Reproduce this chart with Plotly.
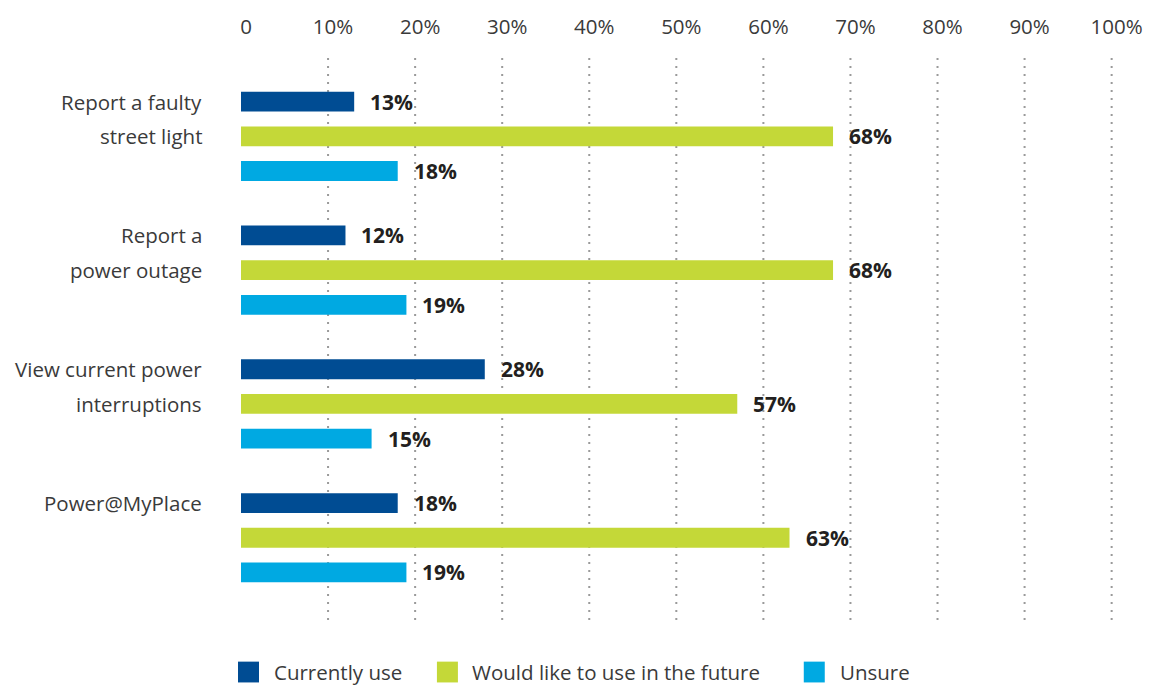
import plotly.graph_objects as go

# ---- data ----
categories = [
    ["Report a faulty", "street light"],
    ["Report a", "power outage"],
    ["View current power", "interruptions"],
    ["Power@MyPlace"],
]
series_names = ["Currently use", "Would like to use in the future", "Unsure"]
currently_use = [13, 12, 28, 18]
future_use = [68, 68, 57, 63]
unsure = [18, 19, 15, 19]
tick_values = [0, 10, 20, 30, 40, 50, 60, 70, 80, 90, 100]
tick_labels = ["0", "10%", "20%", "30%", "40%", "50%", "60%", "70%", "80%", "90%", "100%"]

# ---- styling ----
COLORS = ["#004C93", "#C4D838", "#00A9E2"]
TEXT = "#3a3a3a"
VALUE_TEXT = "#231F20"
FONT = "Open Sans"
TEXT_SIZE = 20.5
W, H = 1165, 689
L, T, B = 241, 52, 69
PX_PER_PCT = 8.71
X_MAX = 100.5
R = W - L - PX_PER_PCT * X_MAX
PLOT_W = W - L - R
PLOT_H = H - T - B

BAR_PX = 35.0           # distance between bars inside a group
GROUP_PX = 135.0        # distance between groups
GROUP_STEP = GROUP_PX / BAR_PX
BAR_WIDTH = 20.0 / BAR_PX
FIRST_BAR_PX = 97.0     # centre of the first bar, from top of page
Y_TOP = (T - FIRST_BAR_PX) / BAR_PX
Y_BOTTOM = Y_TOP + PLOT_H / BAR_PX

series_values = [currently_use, future_use, unsure]

fig = go.Figure()
annotations = []
for s, (name, values, color) in enumerate(zip(series_names, series_values, COLORS)):
    ys = [g * GROUP_STEP + s for g in range(len(categories))]
    fig.add_trace(go.Bar(
        x=values, y=ys, orientation="h", name=name,
        marker=dict(color=color, line=dict(width=0)),
        width=BAR_WIDTH, showlegend=False, hoverinfo="x",
    ))
    for v, y in zip(values, ys):
        annotations.append(dict(
            x=v, y=y, xref="x", yref="y", text=f"{v}%", showarrow=False,
            xanchor="left", yanchor="middle", xshift=14,
            font=dict(family=FONT, size=21, color=VALUE_TEXT, weight="bold"),
        ))

# category labels, one line per bar row
for g, lines in enumerate(categories):
    for i, line in enumerate(lines):
        annotations.append(dict(
            x=0, y=g * GROUP_STEP + i, xref="paper", yref="y", text=line,
            showarrow=False, xanchor="right", yanchor="middle", xshift=-37,
            font=dict(family=FONT, size=TEXT_SIZE, color=TEXT),
        ))

# dotted gridlines (none at zero)
shapes = []
for v in tick_values:
    if v == 0:
        continue
    shapes.append(dict(
        type="line", xref="x", yref="paper", x0=v, x1=v, y0=0, y1=1,
        line=dict(color="#9a9a9a", width=2, dash="2px,6px"), layer="below",
    ))

# legend row
def px_x(px):
    return (px - L) / PLOT_W

def px_y(py):
    return (H - B - py) / PLOT_H

legend_square_px = [238, 437, 804]
legend_text_px = [272, 470, 838]
for name, color, sq, tx in zip(series_names, COLORS, legend_square_px, legend_text_px):
    shapes.append(dict(
        type="rect", xref="paper", yref="paper",
        x0=px_x(sq), x1=px_x(sq + 21), y0=px_y(683), y1=px_y(662),
        fillcolor=color, line=dict(width=0),
    ))
    annotations.append(dict(
        x=px_x(tx), y=px_y(672), xref="paper", yref="paper", text=name,
        showarrow=False, xanchor="left", yanchor="middle",
        font=dict(family=FONT, size=TEXT_SIZE, color=TEXT),
    ))

fig.update_layout(
    width=W, height=H,
    margin=dict(l=L, r=R, t=T, b=B, pad=0),
    paper_bgcolor="white", plot_bgcolor="white",
    barmode="overlay",
    showlegend=False,
    annotations=annotations,
    shapes=shapes,
    xaxis=dict(
        range=[0, X_MAX], side="top", tickvals=tick_values, ticktext=tick_labels,
        showgrid=False, zeroline=False, showline=False, ticks="",
        ticklabelstandoff=18, ticklabelshift=5,
        tickfont=dict(family=FONT, size=TEXT_SIZE, color=TEXT),
        fixedrange=True,
    ),
    yaxis=dict(
        range=[Y_BOTTOM, Y_TOP], showgrid=False, zeroline=False,
        showline=False, showticklabels=False, ticks="", fixedrange=True,
    ),
)

fig.write_html("out.html")
